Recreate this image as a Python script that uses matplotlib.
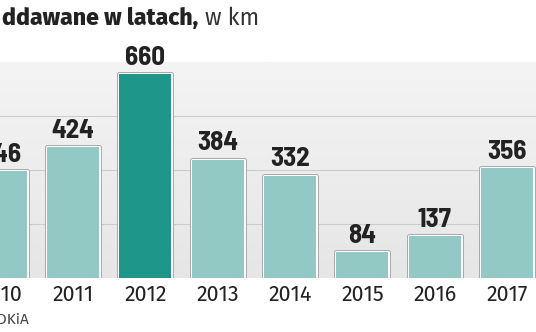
from matplotlib import pyplot as plt
from matplotlib import patheffects as pe
from matplotlib.colors import LinearSegmentedColormap
import numpy as np

# dane
years = ['2010', '2011', '2012', '2013', '2014', '2015', '2016', '2017']
km = [346, 424, 660, 384, 332, 84, 137, 356]
highlight = '2012'

light = '#93c9c4'
dark = '#1f968a'
txt = '#222222'

num_font = ['Barlow Semi Condensed', 'Barlow Condensed', 'Roboto Condensed', 'DejaVu Sans']
lab_font = ['Fira Sans', 'Open Sans', 'DejaVu Sans']

fig = plt.figure(figsize=(5.36, 3.32), dpi=100)
ax = fig.add_axes([0, 1 - 278 / 332, 1, 216 / 332])

ymax = 700
ax.set_xlim(-0.01, 7.40)
ax.set_ylim(0, ymax)

# tło panelu - delikatny gradient
grad = np.linspace(0, 1, 100).reshape(-1, 1)
ax.imshow(grad, cmap=LinearSegmentedColormap.from_list('bg', ['#e6e6e6', '#f4f4f4']),
          origin='lower', aspect='auto', extent=[-0.01, 7.40, 0, ymax], zorder=0)

for g in [ymax / 4, ymax / 2, ymax * 3 / 4]:
    ax.axhline(g, color='#cccccc', lw=0.8, zorder=1)

x = np.arange(len(years))
colors = [dark if y == highlight else light for y in years]
bars = ax.bar(x, km, width=0.72, color=colors, zorder=3, linewidth=0)
for b in bars:
    b.set_path_effects([
        pe.Stroke(linewidth=3.6, foreground='#a8a8a8', joinstyle='round'),
        pe.Stroke(linewidth=2.2, foreground='white', joinstyle='round'),
        pe.Normal(),
    ])

for xi, v in zip(x, km):
    ax.annotate(str(v), (xi, v), xytext=(0, 3), textcoords='offset points',
                ha='center', va='bottom', fontsize=19.5, color=txt,
                family=num_font, weight='bold')

for xi, y in zip(x, years):
    ax.annotate(y, (xi, 0), xytext=(0, -4.5), textcoords='offset points',
                ha='center', va='top', fontsize=15.5, color=txt,
                family=lab_font, annotation_clip=False)

ax.axis('off')

t1 = fig.text(2 / 536, 1 - 18 / 332, 'ddawane w latach,', fontsize=16.6, weight='heavy',
              family=lab_font, color=txt, va='center', ha='left')
fig.canvas.draw()
ext = t1.get_window_extent()
fig.text((ext.x1 + 7) / 536, 1 - 18 / 332, 'w km', fontsize=16.6, weight='normal',
         family=lab_font, color='#333333', va='center', ha='left')
fig.text(29 / 536, 1 - 320 / 332, 'Źródło: GDDKiA', fontsize=11,
         family=lab_font, color='#444444', va='center', ha='right')

fig.savefig('out.png', dpi=100)
